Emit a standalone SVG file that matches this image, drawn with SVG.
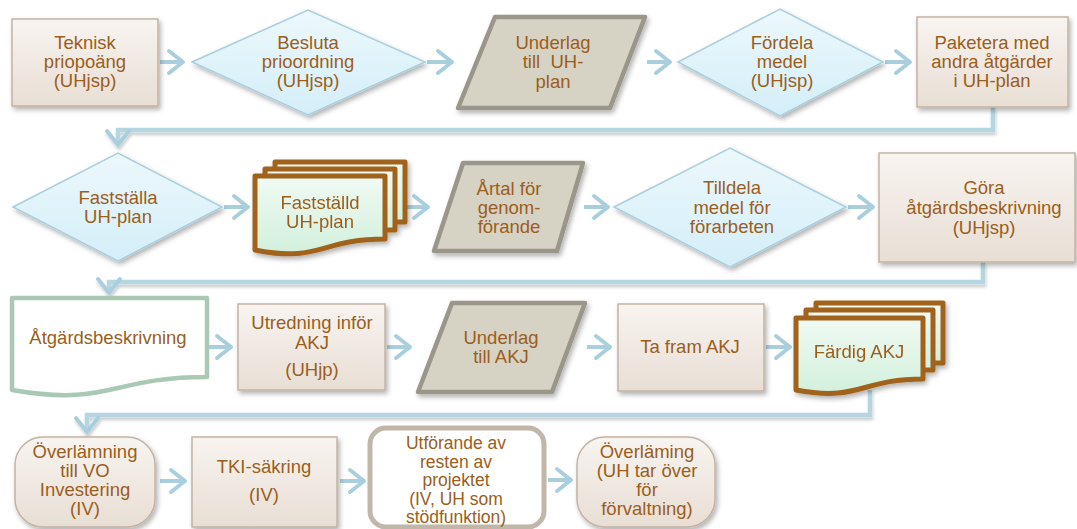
<svg xmlns="http://www.w3.org/2000/svg" width="1077" height="529" viewBox="0 0 1077 529">
<defs>
<linearGradient id="gBeige" x1="0" y1="0" x2="0" y2="1"><stop offset="0" stop-color="#f8f4f0"/><stop offset="1" stop-color="#e8ded4"/></linearGradient>
<linearGradient id="gBlue" x1="0" y1="0" x2="0" y2="1"><stop offset="0" stop-color="#ecf8fc"/><stop offset="1" stop-color="#d4eef9"/></linearGradient>
<linearGradient id="gGreen" x1="0" y1="0" x2="0" y2="1"><stop offset="0" stop-color="#f0faf3"/><stop offset="1" stop-color="#d2f0dc"/></linearGradient>
<filter id="sh" x="-10%" y="-10%" width="130%" height="140%"><feDropShadow dx="2" dy="3" stdDeviation="2.5" flood-color="#000" flood-opacity="0.3"/></filter>
<filter id="shl" x="-5%" y="-50%" width="110%" height="200%"><feDropShadow dx="1" dy="3" stdDeviation="1.5" flood-color="#000" flood-opacity="0.2"/></filter>
<marker id="ah" markerUnits="userSpaceOnUse" markerWidth="22" markerHeight="28" viewBox="0 0 22 28" refX="18" refY="14" orient="auto"><path d="M4,3 L18,14 L4,25" fill="none" stroke="#a9cfde" stroke-width="4" stroke-linecap="round" stroke-linejoin="round"/></marker>
<style>
.t{font-family:"Liberation Sans",Arial,sans-serif;font-size:18.5px;fill:#9b5e1c;text-anchor:middle}
.ts{font-size:17.5px}
.box{fill:url(#gBeige);stroke:#c3b3a3;stroke-width:1.5;filter:url(#sh)}
.dia{fill:url(#gBlue);stroke:#a9cfdf;stroke-width:1.5;filter:url(#sh)}
.par{fill:#d6d2c4;stroke:#9a968a;stroke-width:4.5;stroke-linejoin:round;filter:url(#sh)}
.doc{fill:url(#gGreen);stroke:#a1621b;stroke-width:5;stroke-linejoin:round}
.mdoc{filter:url(#sh)}
.sdoc{fill:#fff;stroke:#a9c9b5;stroke-width:4.5;stroke-linejoin:round}
.wbox{fill:#fff;stroke:#c0b7aa;stroke-width:5}
.ar{fill:none;stroke:#a9cfde;stroke-width:4;marker-end:url(#ah)}
.el{fill:none;stroke:#b5d6e1;stroke-width:4.5;filter:url(#shl);marker-end:url(#ah)}
</style>
</defs>

<g id="connectors">
<line class="ar" x1="160" y1="62" x2="183" y2="62"/>
<line class="ar" x1="427" y1="62" x2="452" y2="62"/>
<line class="ar" x1="647" y1="62" x2="670" y2="62"/>
<line class="ar" x1="885" y1="62" x2="910" y2="62"/>
<path class="el" d="M993,107 V130 H118 V145"/>
<line class="ar" x1="224" y1="207" x2="248" y2="207"/>
<line class="ar" x1="407" y1="207" x2="428" y2="207"/>
<line class="ar" x1="584" y1="207" x2="608" y2="207"/>
<line class="ar" x1="848" y1="207" x2="873" y2="207"/>
<path class="el" d="M983,262 V282 H109 V293"/>
<line class="ar" x1="209" y1="347" x2="231" y2="347"/>
<line class="ar" x1="387" y1="347" x2="410" y2="347"/>
<line class="ar" x1="587" y1="347" x2="610" y2="347"/>
<line class="ar" x1="766" y1="347" x2="790" y2="347"/>
<path class="el" d="M870,390 V415 H87 V432"/>
<line class="ar" x1="160" y1="481" x2="185" y2="481"/>
<line class="ar" x1="340" y1="481" x2="364" y2="481"/>
<line class="ar" x1="548" y1="480" x2="571" y2="480"/>
</g>

<g id="n1">
<rect class="box" x="12" y="19" width="146" height="87"/>
<text class="t" x="85" y="49">Teknisk</text>
<text class="t" x="85" y="68">priopoäng</text>
<text class="t" x="85" y="87">(UHjsp)</text>
</g>
<g id="n2">
<polygon class="dia" points="192,62 308,10 425,62 308,115"/>
<text class="t" x="308" y="49">Besluta</text>
<text class="t" x="308" y="68">prioordning</text>
<text class="t" x="308" y="87">(UHjsp)</text>
</g>
<g id="n3">
<polygon class="par" points="495,17 645,17 610,108 458,108"/>
<text class="t" x="553" y="49">Underlag</text>
<text class="t" x="553" y="68" xml:space="preserve">till  UH-</text>
<text class="t" x="553" y="88">plan</text>
</g>
<g id="n4">
<polygon class="dia" points="678,62 780,9 883,62 780,116"/>
<text class="t" x="782" y="49">Fördela</text>
<text class="t" x="782" y="68">medel</text>
<text class="t" x="782" y="87">(UHjsp)</text>
</g>
<g id="n5">
<rect class="box" x="917" y="17" width="151" height="90"/>
<text class="t" x="992" y="49">Paketera med</text>
<text class="t" x="992" y="68">andra åtgärder</text>
<text class="t" x="992" y="87">i UH-plan</text>
</g>

<g id="n6">
<polygon class="dia" points="13,207 118,153 222,207 118,261"/>
<text class="t" x="118" y="204">Fastställa</text>
<text class="t" x="118" y="223">UH-plan</text>
</g>
<g id="n7" class="mdoc">
<path class="doc" d="M275,162 H405 V222 H275 Z"/>
<path class="doc" d="M265,169 H395 V230 H265 Z"/>
<path class="doc" d="M255,176 H385 V239 C320,239 320,263 255,250 Z"/>
<text class="t" x="320" y="209">Fastställd</text>
<text class="t" x="320" y="228">UH-plan</text>
</g>
<g id="n8">
<polygon class="par" points="463,163 583,163 557,251 434,251"/>
<text class="t" x="509" y="195">Årtal för</text>
<text class="t" x="509" y="214">genom-</text>
<text class="t" x="509" y="233">förande</text>
</g>
<g id="n9">
<polygon class="dia" points="614,207 730,148 846,207 730,267"/>
<text class="t" x="732" y="194">Tilldela</text>
<text class="t" x="732" y="214">medel för</text>
<text class="t" x="732" y="233">förarbeten</text>
</g>
<g id="n10">
<rect class="box" x="879" y="153" width="196" height="109"/>
<text class="t" x="984" y="194">Göra</text>
<text class="t" x="984" y="214">åtgärdsbeskrivning</text>
<text class="t" x="984" y="234">(UHjsp)</text>
</g>

<g id="n11">
<path class="sdoc" d="M12,298 H207 V377 C110,377 110,407 12,390 Z"/>
<text class="t" x="108" y="344">Åtgärdsbeskrivning</text>
</g>
<g id="n12">
<rect class="box" x="238" y="304" width="147" height="86"/>
<text class="t" x="312" y="329">Utredning inför</text>
<text class="t" x="312" y="349">AKJ</text>
<text class="t" x="312" y="376">(UHjp)</text>
</g>
<g id="n13">
<polygon class="par" points="452,303 585,303 552,392 418,392"/>
<text class="t" x="501" y="344">Underlag</text>
<text class="t" x="501" y="363">till AKJ</text>
</g>
<g id="n14">
<rect class="box" x="618" y="304" width="146" height="87"/>
<text class="t" x="690" y="353">Ta fram AKJ</text>
</g>
<g id="n15" class="mdoc">
<path class="doc" d="M816,303 H943 V363 H816 Z"/>
<path class="doc" d="M806,310 H933 V370 H806 Z"/>
<path class="doc" d="M796,318 H923 V379 C860,379 860,402 796,390 Z"/>
<text class="t" x="859" y="358">Färdig AKJ</text>
</g>

<g id="n16">
<rect class="box" x="15" y="437" width="140" height="90" rx="28"/>
<text class="t" x="85" y="458">Överlämning</text>
<text class="t" x="85" y="477">till VO</text>
<text class="t" x="85" y="496">Investering</text>
<text class="t" x="85" y="515">(IV)</text>
</g>
<g id="n17">
<rect class="box" x="192" y="437" width="145" height="90"/>
<text class="t" x="264" y="473">TKI-säkring</text>
<text class="t" x="264" y="501">(IV)</text>
</g>
<g id="n18">
<rect class="wbox" x="370" y="428" width="174" height="99" rx="16"/>
<text class="t ts" x="456" y="449">Utförande av</text>
<text class="t ts" x="456" y="467.5">resten av</text>
<text class="t ts" x="456" y="486">projektet</text>
<text class="t ts" x="456" y="504.5">(IV, UH som</text>
<text class="t ts" x="456" y="523">stödfunktion)</text>
</g>
<g id="n19">
<rect class="box" x="577" y="437" width="138" height="90" rx="28"/>
<text class="t" x="647" y="458">Överläming</text>
<text class="t" x="647" y="477">(UH tar över</text>
<text class="t" x="647" y="496">för</text>
<text class="t" x="647" y="515">förvaltning)</text>
</g>
</svg>
